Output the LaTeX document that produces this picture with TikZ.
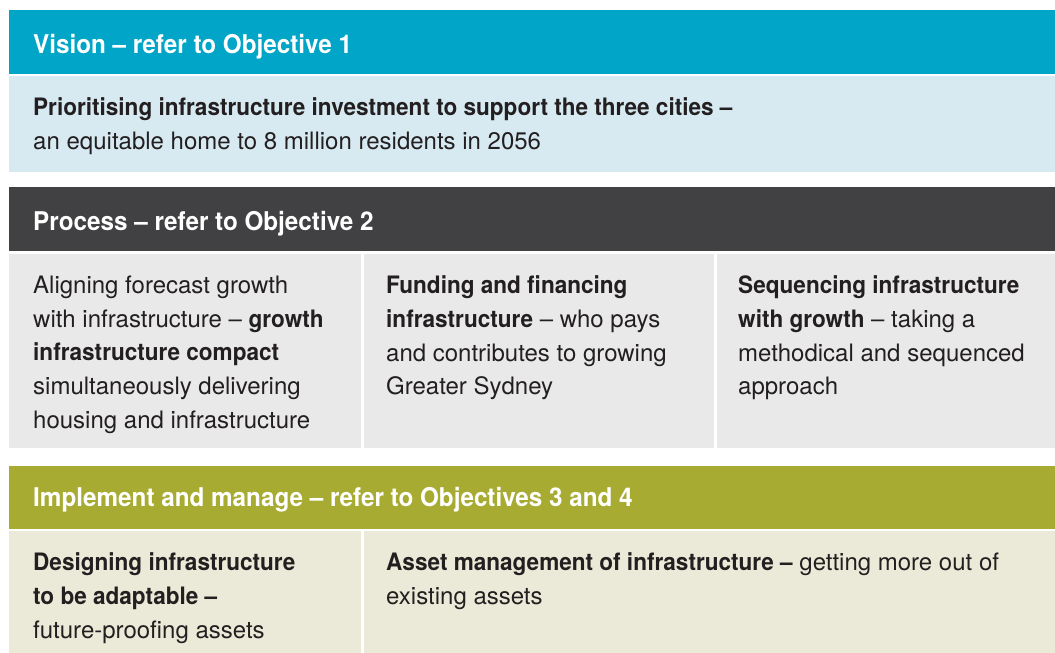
\documentclass[tikz,border=0pt]{standalone}
\usepackage{fontspec}
\setsansfont[BoldFeatures={FakeStretch=0.94}]{TeX Gyre Heros}
\usetikzlibrary{positioning}

\definecolor{visionblue}{HTML}{00A5C8}
\definecolor{visionpale}{HTML}{D7EAF2}
\definecolor{processdark}{HTML}{414143}
\definecolor{processpale}{HTML}{E9E9E9}
\definecolor{implolive}{HTML}{A8AB32}
\definecolor{implpale}{HTML}{EBEAD8}
\definecolor{inkgrey}{HTML}{231F20}

\begin{document}
\begin{tikzpicture}[
		x=1pt, y=-1pt,
		font=\sffamily,
		% Styles
		headtext/.style={anchor=base west, inner sep=0pt, text=white, font=\sffamily\bfseries\fontsize{25.8}{30}\selectfont},
		celltext/.style={anchor=north west, inner sep=0pt, text=inkgrey, align=left, font=\sffamily\fontsize{24}{33.8}\selectfont}
		]
		
		\useasboundingbox (0,0) rectangle (1055,653);
		
		% =========================================================
		% 1. VISION
		% =========================================================
		\fill[visionblue] (9,10) rectangle (1055,74);
		\fill[visionpale] (9,76) rectangle (1055,172);
		
		\node[headtext] (VisionHead) at (33,53) {Vision -- refer to Objective 1};
		\node[celltext] (VisionText) at (33,97.5) {\textbf{Prioritising infrastructure investment to support the three cities --}\\
			an equitable home to 8 million residents in 2056};
		
		% =========================================================
		% 2. PROCESS
		% =========================================================
		\fill[processdark] (9,187) rectangle (1055,251);
		\fill[processpale] (9,254) rectangle (361,448);
		\fill[processpale] (364,254) rectangle (714,448);
		\fill[processpale] (717,254) rectangle (1055,448);
		
		\node[headtext] (ProcessHead) at (33,230) {Process -- refer to Objective 2};
		
		\node[celltext] (Aligning) at (33,275.5) {Aligning forecast growth\\
			with infrastructure -- \textbf{growth}\\
			\textbf{infrastructure compact}\\
			simultaneously delivering\\
			housing and infrastructure};
		\node[celltext] (Funding) at (386,275.5) {\textbf{Funding and financing}\\
			\textbf{infrastructure} -- who pays\\
			and contributes to growing\\
			Greater Sydney};
		\node[celltext] (Sequencing) at (738,275.5) {\textbf{Sequencing infrastructure}\\
			\textbf{with growth} -- taking a\\
			methodical and sequenced\\
			approach};
		
		% =========================================================
		% 3. IMPLEMENT AND MANAGE
		% =========================================================
		\fill[implolive] (9,466) rectangle (1055,529);
		\fill[implpale] (9,531) rectangle (361,653);
		\fill[implpale] (364,531) rectangle (1055,653);
		
		\node[headtext] (ImplementHead) at (33,506) {Implement and manage -- refer to Objectives 3 and 4};
		
		\node[celltext] (Designing) at (33,552.5) {\textbf{Designing infrastructure}\\
			\textbf{to be adaptable --}\\
			future-proofing assets};
		\node[celltext] (Asset) at (386,552.5) {\textbf{Asset management of infrastructure --} getting more out of\\
			existing assets};
		
	\end{tikzpicture}
\end{document}
